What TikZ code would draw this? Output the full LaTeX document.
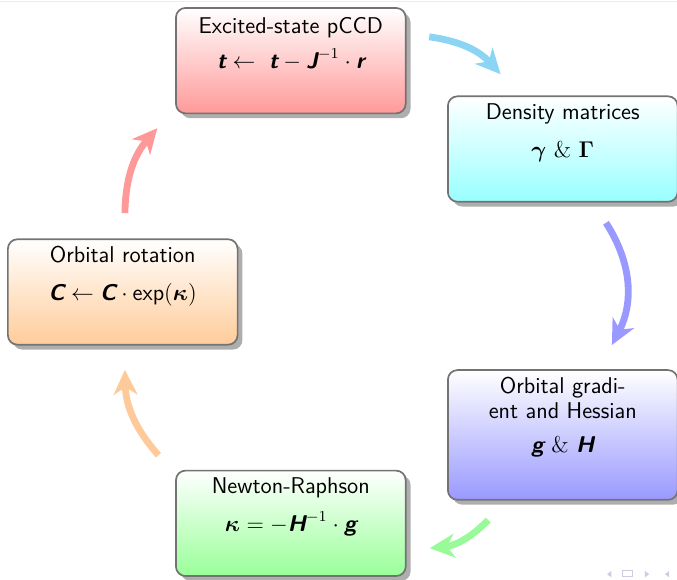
\documentclass[tikz,border=0pt]{standalone}
\usepackage{amsmath}
\usepackage{bm}
\usetikzlibrary{arrows.meta, positioning, shadows, calc}

\definecolor{flowcyan}{RGB}{140,212,243}
\definecolor{flowblue}{RGB}{153,153,255}
\definecolor{flowgreen}{RGB}{153,250,153}
\definecolor{floworange}{RGB}{255,202,153}
\definecolor{flowred}{RGB}{255,153,153}
\definecolor{navgray}{RGB}{205,205,226}

\newcommand{\bvec}[1]{\textsf{\bfseries\itshape #1}}

\begin{document}
\begin{tikzpicture}[
    font={\sffamily\fontsize{12}{13}\selectfont},
    stage/.style     ={draw=black!55, line width=0.9pt, rounded corners=5pt,
                       minimum width=42.5mm, minimum height=19.5mm,
                       top color=white, bottom color=#1,
                       drop shadow={shadow xshift=0.9mm, shadow yshift=-0.9mm,
                                    fill=black!45, opacity=0.7}},
    stagetext/.style ={align=center, inner sep=2pt},
    loopflow/.style  ={line width=3.6pt, draw=#1,
                       -{Stealth[length=4.6mm, width=4.4mm, inset=1.4mm]}},
]
\useasboundingbox (-6.771,-5.31) rectangle (5.754,5.402);
\draw[black!7, line width=0.5pt] (-6.771,5.38) -- (5.754,5.38);

% Five stages on a circle, clockwise from the top
\node[stage=red!40]    (pccd)   at (108:4.5) {};
\node[stage=cyan!40]   (dens)   at (36:4.5)  {};
\node[stage=blue!40, minimum height=24mm] (grad) at (-36:4.5) {};
\node[stage=green!40]  (newton) at (-108:4.5) {};
\node[stage=orange!40] (rot)    at (180:4.5) {};

% Box texts, hung from the top edge of each box
\node[stagetext, below=1.2mm of pccd.north]
    {Excited-state pCCD\\[5pt]
     $\bvec{t} \leftarrow\ \bvec{t} - \bvec{J}^{-1}\cdot\bvec{r}$};
\node[stagetext, below=0.7mm of dens.north]
    {Density matrices\\[7pt] $\bm{\gamma}\ \&\ \bm{\Gamma}$};
\node[stagetext, below=0.7mm of grad.north]
    {Orbital gradi-\\ent and Hessian\\[5pt] $\bvec{g}\ \&\ \bvec{H}$};
\node[stagetext, below=0.7mm of newton.north]
    {Newton-Raphson\\[7pt] $\bm{\kappa} = -\bvec{H}^{-1}\cdot\bvec{g}$};
\node[stagetext, below=0.7mm of rot.north]
    {Orbital rotation\\[7pt] $\bvec{C} \leftarrow \bvec{C}\cdot\textsf{exp}(\bm{\kappa})$};

% Free ends of the curved arrows between the boxes
\coordinate (c1a) at (1.17,4.72);   \coordinate (c1b) at (2.49,4.03);
\coordinate (c2a) at (4.44,1.28);   \coordinate (c2b) at (4.55,-0.98);
\coordinate (c3a) at (2.26,-4.22);  \coordinate (c3b) at (1.18,-4.74);
\coordinate (c4a) at (-3.84,-3.02); \coordinate (c4b) at (-4.46,-1.44);
\coordinate (c5a) at (-4.46,1.46);  \coordinate (c5b) at (-3.86,3.03);

% --- Arrows ---
\draw[loopflow=flowcyan]   (c1a) to[bend left=20] (c1b);
\draw[loopflow=flowblue]   (c2a) to[bend left=30] (c2b);
\draw[loopflow=flowgreen]  (c3a) to[bend left=20] (c3b);
\draw[loopflow=floworange] (c4a) to[bend left=20] (c4b);
\draw[loopflow=flowred]    (c5a) to[bend left=20] (c5b);

% navigation marks, bottom right
\fill[navgray] (4.54,-5.16) -- (4.46,-5.22) -- (4.54,-5.28) -- cycle;
\draw[navgray, line width=0.6pt] (4.75,-5.16) rectangle (4.93,-5.27);
\fill[navgray] (5.16,-5.16) -- (5.24,-5.22) -- (5.16,-5.28) -- cycle;
\fill[navgray] (5.61,-5.16) -- (5.53,-5.22) -- (5.61,-5.28) -- cycle;

\end{tikzpicture}
\end{document}
